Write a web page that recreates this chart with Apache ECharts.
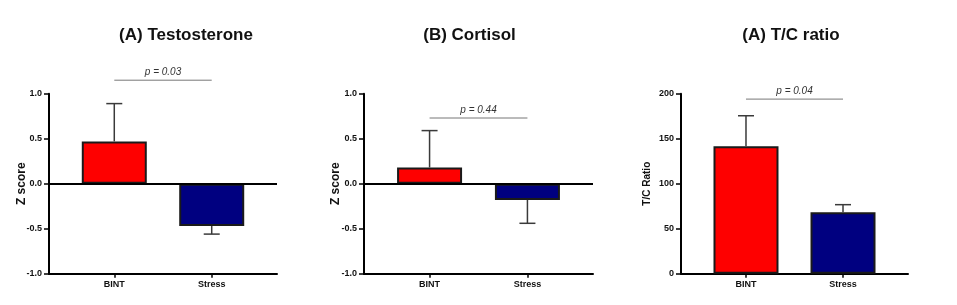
<!DOCTYPE html>
<html>
<head>
<meta charset="utf-8">
<script src="https://cdn.jsdelivr.net/npm/echarts@6/dist/echarts.min.js"></script>
<style>
  html, body { margin: 0; padding: 0; background: #fff; }
  #chart { width: 957px; height: 305px; }
</style>
</head>
<body>
<div id="chart"></div>
<script>
var categories = ['BINT', 'Stress']
var barColors = ['#fe0000', '#000080']

// mean and one-sided SEM per group
var testoMean = [0.47, -0.47]
var testoErr = [0.42, 0.09]
var cortisolMean = [0.18, -0.18]
var cortisolErr = [0.41, 0.26]
var ratioMean = [141.5, 68.2]
var ratioErr = [34, 8.5]

var titles = ['(A) Testosterone', '(B) Cortisol', '(A) T/C ratio']
var axisNames = ['Z score', 'Z score', 'T/C Ratio']
var pLabels = ['p = 0.03', 'p = 0.44', 'p = 0.04']
var pLevels = [1.15, 0.73, 194]

var font = '"Liberation Sans", Arial, sans-serif'

var panels = [
  { mean: testoMean, err: testoErr, left: 49, width: 228, min: -1, max: 1, interval: 0.5, digits: 1, nameGap: 21, nameSize: 12, titleX: 181, zero: true },
  { mean: cortisolMean, err: cortisolErr, left: 364, width: 229, min: -1, max: 1, interval: 0.5, digits: 1, nameGap: 22, nameSize: 12, titleX: 464.5, zero: true },
  { mean: ratioMean, err: ratioErr, left: 681, width: 227, min: 0, max: 200, interval: 50, digits: 0, nameGap: 29, nameSize: 10, titleX: 786, zero: false }
]

var option = {
  animation: false,
  textStyle: { fontFamily: font },
  title: [],
  grid: [],
  xAxis: [],
  yAxis: [],
  series: []
}

panels.forEach(function (p, i) {
  option.title.push({
    text: titles[i],
    left: p.titleX,
    top: 22,
    textAlign: 'center',
    textStyle: { fontFamily: font, fontSize: 17, fontWeight: 'bold', color: '#111' }
  })

  option.grid.push({ left: p.left, top: 93.7, width: p.width, height: 180 })

  option.xAxis.push({
    type: 'value',
    gridIndex: i,
    min: -0.67,
    max: 1.67,
    splitLine: { show: false },
    axisLine: { onZero: false, lineStyle: { color: '#000', width: 2 } },
    axisTick: { show: true, customValues: [0, 1], length: 4, lineStyle: { color: '#000', width: 1.5 } },
    axisLabel: {
      customValues: [0, 1],
      margin: 6,
      fontSize: 9,
      fontWeight: 'bold',
      color: '#111',
      formatter: function (v) { return categories[Math.round(v)] }
    }
  })

  option.yAxis.push({
    type: 'value',
    gridIndex: i,
    min: p.min,
    max: p.max,
    interval: p.interval,
    name: axisNames[i],
    nameLocation: 'middle',
    nameRotate: 90,
    nameGap: p.nameGap,
    nameMoveOverlap: false,
    nameTextStyle: { fontSize: p.nameSize, fontWeight: 'bold', color: '#111' },
    splitLine: { show: false },
    axisLine: { show: true, onZero: false, lineStyle: { color: '#000', width: 2 } },
    axisTick: { show: true, length: 5, lineStyle: { color: '#000', width: 1.5 } },
    axisLabel: {
      margin: 7,
      fontSize: 9,
      fontWeight: 'bold',
      color: '#111',
      formatter: function (v) { return v.toFixed(p.digits) }
    }
  })

  option.series.push({
    type: 'bar',
    xAxisIndex: i,
    yAxisIndex: i,
    barWidth: 65,
    data: p.mean.map(function (m, k) {
      return { value: [k, m], itemStyle: { color: barColors[k] } }
    }),
    itemStyle: { borderColor: '#1a1a1a', borderWidth: 2 },
    markLine: p.zero ? {
      silent: true,
      symbol: 'none',
      label: { show: false },
      lineStyle: { color: '#000', width: 2, type: 'solid' },
      data: [{ yAxis: 0 }]
    } : undefined
  })

  // error bars, drawn away from zero
  option.series.push({
    type: 'custom',
    xAxisIndex: i,
    yAxisIndex: i,
    data: p.mean.map(function (m, k) { return [k, m, m >= 0 ? m + p.err[k] : m - p.err[k]] }),
    renderItem: function (params, api) {
      var a = api.coord([api.value(0), api.value(1)])
      var b = api.coord([api.value(0), api.value(2)])
      var half = 8
      return {
        type: 'group',
        children: [
          { type: 'line', shape: { x1: a[0], y1: a[1], x2: b[0], y2: b[1] }, style: { stroke: '#3a3a3a', lineWidth: 1.5 } },
          { type: 'line', shape: { x1: b[0] - half, y1: b[1], x2: b[0] + half, y2: b[1] }, style: { stroke: '#3a3a3a', lineWidth: 1.5 } }
        ]
      }
    },
    z: 3
  })

  // significance bracket
  option.series.push({
    type: 'custom',
    xAxisIndex: i,
    yAxisIndex: i,
    clip: false,
    data: [[0, 1, pLevels[i]]],
    renderItem: function (params, api) {
      var a = api.coord([api.value(0), api.value(2)])
      var b = api.coord([api.value(1), api.value(2)])
      return {
        type: 'group',
        children: [
          { type: 'line', shape: { x1: a[0], y1: a[1], x2: b[0], y2: b[1] }, style: { stroke: '#777', lineWidth: 1 } },
          {
            type: 'text',
            style: {
              text: pLabels[i],
              x: (a[0] + b[0]) / 2,
              y: a[1] - 8,
              align: 'center',
              verticalAlign: 'middle',
              fill: '#333',
              font: 'italic 10px ' + font
            }
          }
        ]
      }
    }
  })
})

var chart = echarts.init(document.getElementById('chart'))
chart.setOption(option)
</script>
</body>
</html>
